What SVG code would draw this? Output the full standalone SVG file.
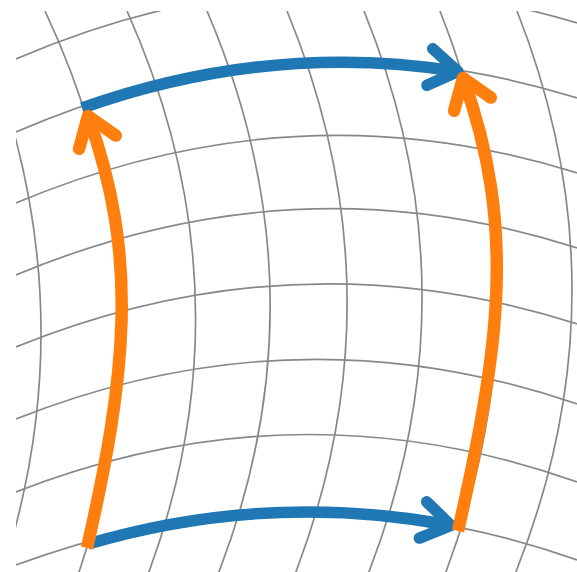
<svg xmlns="http://www.w3.org/2000/svg" width="577" height="572" viewBox="0 0 577 572">
<style>
.g{fill:none;stroke:#888;stroke-width:1.7}
.b{fill:none;stroke:#1f77b4;stroke-width:11.5}
.o{fill:none;stroke:#ff7f0e;stroke-width:12.5}
.hd{stroke-linecap:round;stroke-linejoin:round}
</style>
<defs><clipPath id="c"><rect x="16" y="11" width="561" height="561"/></clipPath></defs>
<rect width="577" height="572" fill="#fff"/>
<g id="grid" clip-path="url(#c)">
<path class="g" d="M16,59 Q296.5,-61.8 577,23"/>
<path class="g" d="M16,132 Q296.5,10 577,98"/>
<path class="g" d="M16,203 Q296.5,85 577,173"/>
<path class="g" d="M16,275 Q296.5,157.5 577,248"/>
<path class="g" d="M16,347 Q296.5,233.5 577,324"/>
<path class="g" d="M16,419 Q296.5,307.7 577,404"/>
<path class="g" d="M16,492 Q296.5,382.2 577,482"/>
<path class="g" d="M16,565 Q296.5,460.7 577,560"/>
<path class="g" d="M-28.8,11 Q92.4,290 3.2,569 l-1.5,4"/>
<path class="g" d="M45,11 Q175.5,290 80,569 l-1.5,4"/>
<path class="g" d="M127,11 Q251.5,290 150,569 l-1.5,4"/>
<path class="g" d="M207,11 Q326.5,290 220,569 l-1.5,4"/>
<path class="g" d="M287,11 Q402,290 297,569 l-1.5,4"/>
<path class="g" d="M364,11 Q477,290 370,569 l-1.5,4"/>
<path class="g" d="M440,11 Q550.5,290 447,569 l-1.5,4"/>
<path class="g" d="M517,11 Q627,290 517,569 l-1.5,4"/>
</g>
<g id="arrows">
<g id="blue-top">
<path class="b" d="M82,108 Q270,41.5 458,71.5"/>
<path class="b hd" d="M432.7,48.8 L458,71.5 L426.9,85.3"/>
</g>
<g id="blue-bottom">
<path class="b" d="M88,544 Q269.5,491 451,525.5"/>
<path class="b hd" d="M426.7,501.8 L451,525.5 L419.4,538.1"/>
</g>
<g id="orange-left">
<path class="o" d="M87,548 C126.8,373.4 139,257 88,116"/>
<path class="o hd" d="M79.1,148.8 L88,116 L115.8,135.6"/>
</g>
<g id="orange-right">
<path class="o" d="M458,531 C499,350 517.4,228.4 463,78"/>
<path class="o hd" d="M454.1,110.8 L463,78 L490.8,97.6"/>
</g>
</g>
</svg>
